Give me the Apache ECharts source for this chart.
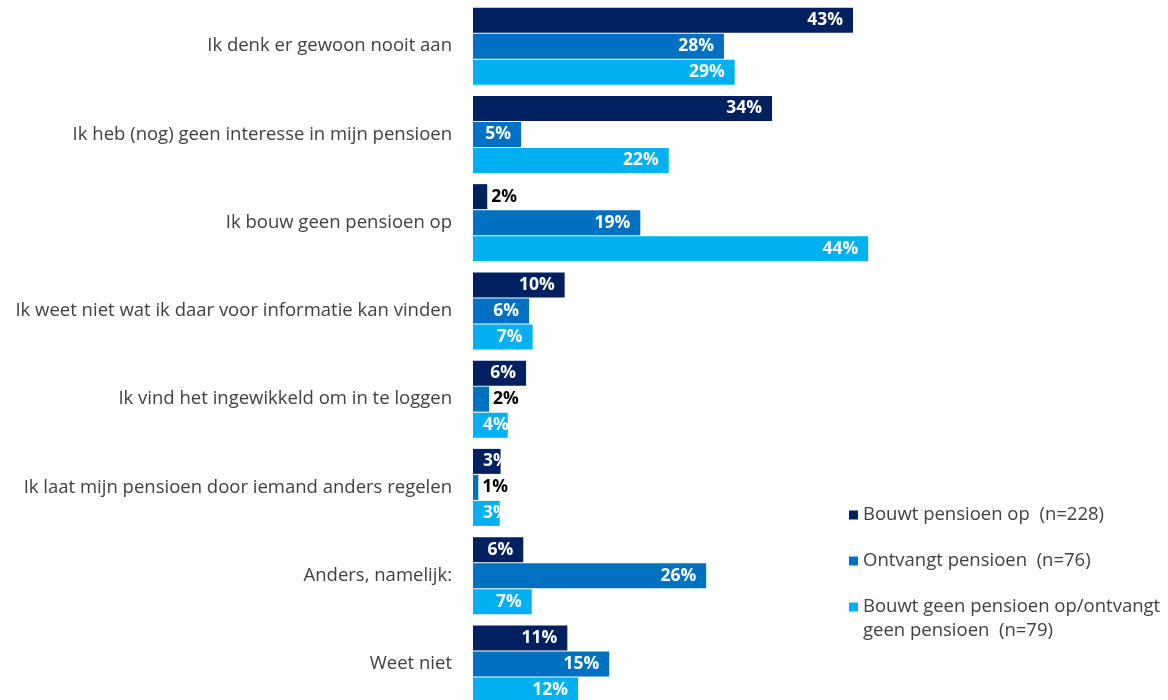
<!DOCTYPE html>
<html>
<head>
<meta charset="utf-8">
<script src="https://cdn.jsdelivr.net/npm/echarts@6/dist/echarts.min.js"></script>
<style>html,body{margin:0;padding:0;background:#fff}#c{width:1168px;height:700px}</style>
</head>
<body>
<div id="c"></div>
<script>
const categories = [
  "Ik denk er gewoon nooit aan",
  "Ik heb (nog) geen interesse in mijn pensioen",
  "Ik bouw geen pensioen op",
  "Ik weet niet wat ik daar voor informatie kan vinden",
  "Ik vind het ingewikkeld om in te loggen",
  "Ik laat mijn pensioen door iemand anders regelen",
  "Anders, namelijk:",
  "Weet niet"
];
const seriesNames = [
  "Bouwt pensioen op  (n=228)",
  "Ontvangt pensioen  (n=76)",
  "Bouwt geen pensioen op/ontvangt\ngeen pensioen  (n=79)"
];
const bouwtOp = [42.7, 33.6, 1.6, 10.3, 5.96, 3.1, 5.65, 10.6];
const ontvangt = [28.2, 5.4, 18.8, 6.3, 1.8, 0.6, 26.2, 15.3];
const geen = [29.4, 22.0, 44.4, 6.7, 3.9, 3.0, 6.6, 11.8];
const colors = ["#002060", "#0070C0", "#00B0F0"];

const FONT = "'Open Sans', sans-serif";
function items(arr) {
  return arr.map(v => {
    if (v < 2) {
      return { value: v, label: { position: 'right', distance: 4, color: '#000' } };
    } else if (v < 5) {
      return { value: v, label: { position: 'insideLeft', distance: 10, color: '#fff' } };
    }
    return { value: v };
  });
}
const allData = [bouwtOp, ontvangt, geen];
const series = allData.map((arr, i) => ({
  name: seriesNames[i],
  type: 'bar',
  barWidth: 25,
  barGap: '4%',
  itemStyle: { color: colors[i] },
  label: {
    show: true, position: 'insideRight', distance: 10, color: '#fff',
    fontFamily: FONT, fontSize: 17.5, fontWeight: 'bold',
    formatter: p => Math.round(p.value) + '%'
  },
  data: items(arr)
}));

const legendCenters = [515, 561, 607];
const legends = seriesNames.map((n, i) => ({
  data: [n],
  orient: 'vertical',
  left: 849,
  top: legendCenters[i] - 12,
  padding: 0,
  icon: 'rect',
  itemWidth: 9,
  itemHeight: 9,
  selectedMode: false,
  formatter: i === 2 ? (name => '\n' + name) : '{name}',
  textStyle: {
    fontFamily: FONT, fontSize: 18.5, color: '#404040', lineHeight: 24
  }
}));
legends[2].top = legendCenters[2] - 36;

const chart = echarts.init(document.getElementById('c'));
chart.setOption({
  animation: false,
  color: colors,
  legend: legends,
  grid: { left: 473, top: 2, width: 445, height: 706, outerBoundsMode: 'none' },
  xAxis: { type: 'value', min: 0, max: 50, show: false },
  yAxis: {
    type: 'category', inverse: true, data: categories,
    axisLine: { show: false }, axisTick: { show: false },
    axisLabel: { margin: 21, fontFamily: FONT, fontSize: 18.5, color: '#404040' }
  },
  series: series
});
</script>
</body>
</html>
